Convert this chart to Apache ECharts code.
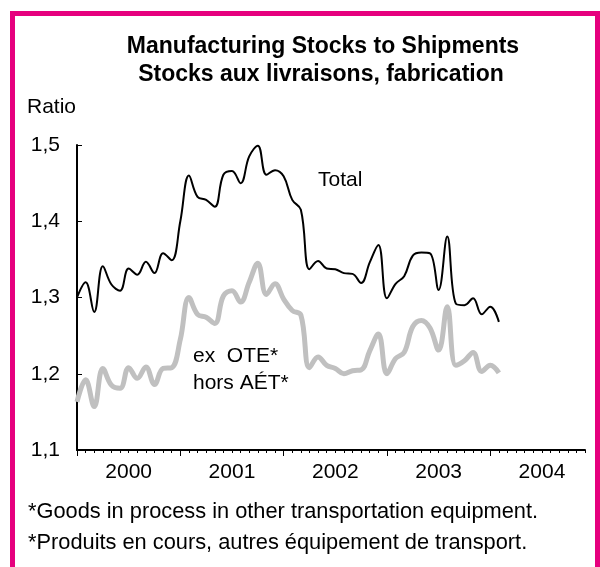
<!DOCTYPE html>
<html>
<head>
<meta charset="utf-8">
<title>Manufacturing Stocks to Shipments</title>
<script src="https://cdn.jsdelivr.net/npm/echarts@6.0.0/dist/echarts.min.js"></script>
<style>
  html, body { margin: 0; padding: 0; background: #fff; }
  #chart { width: 600px; height: 567px; }
</style>
</head>
<body>
<div id="chart"></div>
<script>
const FONT = '"Liberation Sans", Arial, sans-serif'

// years on the x axis, one category per month
const years = ['2000', '2001', '2002', '2003', '2004']
const months = []
years.forEach(y => {
  for (let m = 1; m <= 12; m++) months.push(y + '-' + m)
})

// monthly ratios, Jan 2000 - Feb 2004
const totalRatio = [
  1.300, 1.320, 1.281, 1.341, 1.317, 1.309, 1.338, 1.330, 1.347, 1.332, 1.358, 1.349,
  1.400, 1.460, 1.432, 1.428, 1.419, 1.461, 1.466, 1.450, 1.485, 1.499, 1.461, 1.467,
  1.459, 1.428, 1.415, 1.337, 1.348, 1.338, 1.337, 1.332, 1.331, 1.319, 1.346, 1.369,
  1.299, 1.318, 1.328, 1.355, 1.359, 1.358, 1.310, 1.380, 1.292, 1.290, 1.299, 1.278,
  1.288, 1.268,
]
const exOteRatio = [
  1.163, 1.192, 1.157, 1.207, 1.185, 1.181, 1.208, 1.194, 1.209, 1.186, 1.207, 1.208,
  1.245, 1.300, 1.278, 1.274, 1.266, 1.302, 1.309, 1.294, 1.320, 1.345, 1.304, 1.318,
  1.298, 1.283, 1.277, 1.208, 1.222, 1.211, 1.207, 1.200, 1.204, 1.205, 1.230, 1.252,
  1.200, 1.220, 1.228, 1.262, 1.270, 1.260, 1.231, 1.288, 1.211, 1.217, 1.228, 1.203,
  1.211, 1.201,
]

// y axis ticks
const yTicks = [1.1, 1.2, 1.3, 1.4, 1.5]

const chart = echarts.init(document.getElementById('chart'))

function txt(text, x, y, size, opts) {
  return {
    type: 'text',
    x: x,
    y: y,
    style: Object.assign({
      text: text,
      fontFamily: FONT,
      fontSize: size,
      fill: '#000',
      textAlign: 'left',
      textVerticalAlign: 'middle',
    }, opts || {}),
  }
}

const option = {
  animation: false,
  backgroundColor: '#fff',
  grid: { left: 77, right: 15, top: 145, bottom: 117 },
  xAxis: [
    {
      type: 'category',
      data: months,
      boundaryGap: false,
      axisLine: { lineStyle: { color: '#000', width: 2 } },
      axisTick: { interval: 0, length: 3, lineStyle: { color: '#000', width: 1 } },
      axisLabel: {
        interval: i => i % 12 === 6,
        formatter: v => v.slice(0, 4),
        color: '#000',
        fontFamily: FONT,
        fontSize: 21,
        margin: 12,
      },
      splitLine: { show: false },
    },
    {
      // longer ticks at each January
      type: 'category',
      data: months,
      position: 'bottom',
      boundaryGap: false,
      axisLine: { show: false },
      axisTick: { interval: i => i % 12 === 0, length: 6, lineStyle: { color: '#000', width: 1 } },
      axisLabel: { show: false },
      splitLine: { show: false },
    },
  ],
  yAxis: {
    type: 'value',
    min: yTicks[0],
    max: yTicks[yTicks.length - 1],
    interval: 0.1,
    axisLine: { show: true, lineStyle: { color: '#000', width: 2 } },
    axisTick: { show: true, inside: true, length: 5, lineStyle: { color: '#000', width: 1 } },
    axisLabel: {
      formatter: v => v.toFixed(1).replace('.', ','),
      color: '#000',
      fontFamily: FONT,
      fontSize: 21,
      margin: 17,
    },
    splitLine: { show: false },
  },
  series: [
    {
      name: 'ex OTE',
      type: 'line',
      data: exOteRatio,
      smooth: 0.4,
      symbol: 'none',
      lineStyle: { color: '#C0C0C0', width: 5 },
    },
    {
      name: 'Total',
      type: 'line',
      data: totalRatio,
      smooth: 0.4,
      symbol: 'none',
      lineStyle: { color: '#000', width: 2 },
    },
  ],
  graphic: [
    {
      type: 'rect',
      shape: { x: 12.5, y: 13.5, width: 585, height: 600 },
      style: { fill: 'none', stroke: '#E6007E', lineWidth: 5 },
      silent: true,
    },
    txt('Manufacturing Stocks to Shipments', 323, 47, 23, { fontWeight: 'bold', textAlign: 'center' }),
    txt('Stocks aux livraisons, fabrication', 321, 75, 23, { fontWeight: 'bold', textAlign: 'center' }),
    txt('Ratio', 27, 107, 21),
    txt('Total', 318, 180, 21),
    txt('ex  OTE*', 193, 356, 21),
    txt('hors AÉT*', 193, 383, 21),
    txt('*Goods in process in other transportation equipment.', 28, 512, 21.8),
    txt('*Produits en cours, autres équipement de transport.', 28, 543, 21.8),
  ],
}

chart.setOption(option)
</script>
</body>
</html>
